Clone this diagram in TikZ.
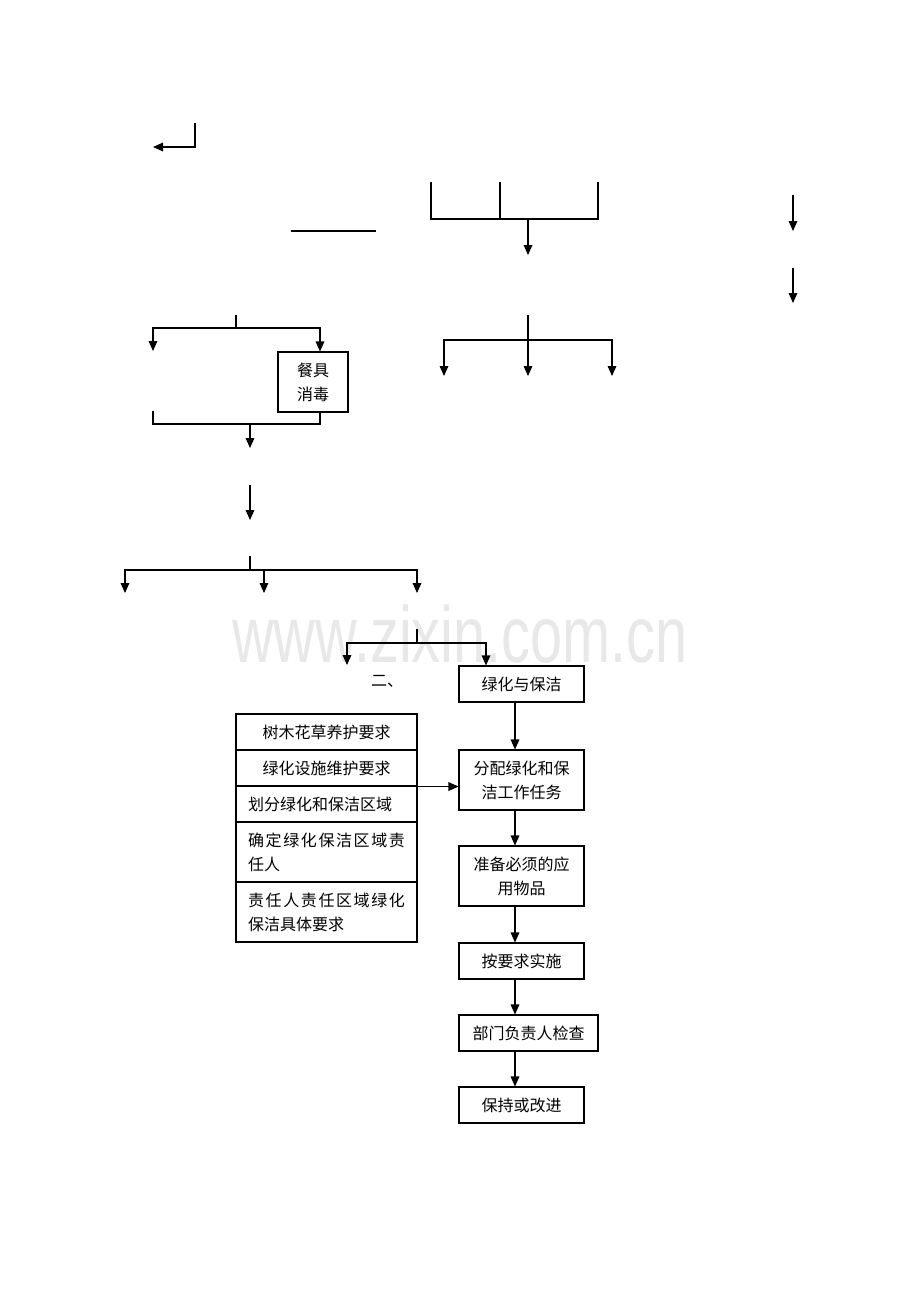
\documentclass[tikz,border=0pt]{standalone}
\usepackage{fontspec}
\setmainfont{Liberation Sans}
\newfontfamily\cjk{Noto Sans CJK SC}
\usetikzlibrary{arrows.meta,calc}
\tikzset{
  ln/.style={line width=0.8pt, line cap=rect},
  arr/.style={line width=0.8pt, -{Triangle[width=6.5pt,length=7.5pt]}},
  box/.style={draw, line width=0.8pt, inner sep=0pt, font=\cjk\fontsize{12}{18}\selectfont, align=center},
}
\begin{document}
\begin{tikzpicture}[x=0.75pt,y=-0.75pt]
\useasboundingbox (0,0) rectangle (920,1302);
% watermark
\node[text=black!9, font=\fontsize{43.3}{43}\selectfont, inner sep=0pt] (wm) at (460,634) {\scalebox{1}[1.38]{www.zixin.com.cn}};

% top-left bent arrow
\coordinate (t1) at (195,123);
\coordinate (t2) at (153,147);
\draw[arr] (t1) |- (t2);

% short horizontal line
\coordinate (h1) at (292,231);
\coordinate (h2) at (375,231);
\draw[ln] (h1) -- (h2);

% three-branch join
\coordinate (a1) at (431,183);
\coordinate (a2) at (500,183);
\coordinate (a3) at (598,183);
\coordinate (a1b) at (431,219);
\coordinate (a3b) at (598,219);
\coordinate (am) at (528,219);
\coordinate (am2) at (528,255);
\draw[ln] (a1) -- (a1b) -- (a3b) -- (a3);
\draw[ln] (a2) -- (a2 |- a1b);
\draw[arr] (am) -- (am2);

% right arrows
\coordinate (r1s) at (793,195);
\coordinate (r1e) at (793,231);
\coordinate (r2s) at (793,268);
\coordinate (r2e) at (793,303);
\draw[arr] (r1s) -- (r1e);
\draw[arr] (r2s) -- (r2e);

% fork F1
\coordinate (f1t) at (528,316);
\coordinate (f1m) at (528,340);
\coordinate (f1l) at (444,376);
\coordinate (f1c) at (528,376);
\coordinate (f1r) at (612,376);
\draw[ln] (f1t) -- (f1m);
\draw[arr] (f1m) -| (f1l);
\draw[arr] (f1m) -| (f1r);
\draw[arr] (f1m) -- (f1c);

% box cj
\node[box, minimum width=70*0.75pt, minimum height=60*0.75pt] (cj) at (313,382) {餐具\\消毒};

% fork F2
\coordinate (f2t) at (236,316);
\coordinate (f2m) at (236,328);
\coordinate (f2l) at (153,351);
\coordinate (f2r) at (320,328);
\draw[ln] (f2t) -- (f2m);
\draw[arr] (f2m) -| (f2l);
\draw[ln] (f2m) -- (f2r);
\draw[arr] (f2r) -- (f2r |- cj.north);

% join below
\coordinate (j1) at (153,412);
\coordinate (j2) at (153,424);
\coordinate (j3) at (320,424);
\draw[ln] (j1) -- (j2) -- (j3) -- (j3 |- cj.south);
\coordinate (jm) at (250,424);
\coordinate (jme) at (250,448);
\draw[arr] (jm) -- (jme);

% single arrow
\coordinate (s1) at (250,485);
\coordinate (s2) at (250,520);
\draw[arr] (s1) -- (s2);

% fork F3
\coordinate (f3t) at (250,557);
\coordinate (f3m) at (250,570);
\coordinate (f3a) at (125,593);
\coordinate (f3b) at (264,593);
\coordinate (f3c) at (417,593);
\coordinate (f3bm) at (264,570);
\draw[ln] (f3t) -- (f3m);
\draw[arr] (f3m) -| (f3a);
\draw[arr] (f3m) -| (f3c);
\draw[arr] (f3bm) -- (f3b);

% right column boxes
\node[box, minimum width=125*0.75pt, minimum height=36*0.75pt] (b1) at (521.5,684) {绿化与保洁};
\node[box, minimum width=125*0.75pt, minimum height=60*0.75pt] (b2) at (521.5,780) {分配绿化和保\\洁工作任务};
\node[box, minimum width=125*0.75pt, minimum height=60*0.75pt] (b3) at (521.5,876) {准备必须的应\\用物品};
\node[box, minimum width=125*0.75pt, minimum height=36*0.75pt] (b4) at (521.5,961) {按要求实施};
\node[box, minimum width=139*0.75pt, minimum height=36*0.75pt] (b5) at (528.5,1033) {部门负责人检查};
\node[box, minimum width=125*0.75pt, minimum height=36*0.75pt] (b6) at (521.5,1105) {保持或改进};

\coordinate (ax) at (515,0);
\draw[arr] (b1.south -| ax) -- (b2.north -| ax);
\draw[arr] (b2.south -| ax) -- (b3.north -| ax);
\draw[arr] (b3.south -| ax) -- (b4.north -| ax);
\draw[arr] (b4.south -| ax) -- (b5.north -| ax);
\draw[arr] (b5.south -| ax) -- (b6.north -| ax);

% fork F4
\coordinate (f4t) at (417,630);
\coordinate (f4m) at (417,643);
\coordinate (f4l) at (347,665);
\coordinate (f4rx) at (486,643);
\draw[ln] (f4t) -- (f4m);
\draw[arr] (f4m) -| (f4l);
\draw[ln] (f4m) -- (f4rx);
\draw[arr] (f4rx) -- (f4rx |- b1.north);

% label
\node[font=\cjk\fontsize{12}{18}\selectfont, inner sep=0pt] (er) at (387,681) {二、};

% left stack
\tikzset{lrow/.style={box, minimum width=181*0.75pt, text width=157*0.75pt}}
\node[lrow, minimum height=36*0.75pt, align=center] (q1) at (326.5,732) {树木花草养护要求};
\node[lrow, minimum height=36*0.75pt, align=center] (q2) at (326.5,768) {绿化设施维护要求};
\node[lrow, minimum height=36*0.75pt, align=left] (q3) at (326.5,804) {划分绿化和保洁区域};
\node[lrow, minimum height=60*0.75pt, align=left] (q4) at (326.5,852) {\hbox to 117.75pt{确\hfill 定\hfill 绿\hfill 化\hfill 保\hfill 洁\hfill 区\hfill 域\hfill 责}\\任人};
\node[lrow, minimum height=60*0.75pt, align=left] (q5) at (326.5,912) {\hbox to 117.75pt{责\hfill 任\hfill 人\hfill 责\hfill 任\hfill 区\hfill 域\hfill 绿\hfill 化}\\保洁具体要求};

\draw[arr] (q2.south east) -- (q2.south east -| b2.west);
\end{tikzpicture}
\end{document}
